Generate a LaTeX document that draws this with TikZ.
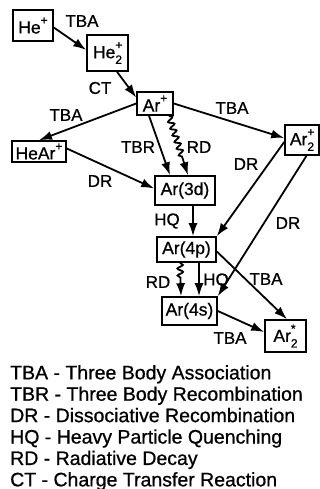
\documentclass[tikz,border=0pt]{standalone}
\usepackage{fontspec}
\setmainfont{Liberation Sans}[FakeBold=0.8]
\usetikzlibrary{arrows.meta,decorations.pathmorphing}
% superscript stacked over a subscript
\newcommand\supsub[2]{\makebox[0pt][l]{\raisebox{0.52em}{\fontsize{12}{12}\selectfont#1}}\raisebox{-0.32em}{\fontsize{12}{12}\selectfont#2}}
\newcommand\sups[1]{\raisebox{0.52em}{\fontsize{12}{12}\selectfont#1}}
\begin{document}
\begin{tikzpicture}[x=1pt,y=-1pt,
  species/.style={draw,line width=1.6pt,inner sep=0pt,font=\fontsize{17.5}{20}\selectfont},
  lbl/.style={inner sep=0pt,font=\fontsize{17}{20}\selectfont},
  rxn/.style={line width=1.8pt,-{Latex[length=13pt,width=9pt]}},
  wave/.style={rxn,decorate,decoration={snake,amplitude=2.8pt,segment length=7pt,post length=17pt}},
]
\useasboundingbox (0,0) rectangle (320,489);

% species
\node[species,minimum width=40pt,minimum height=31pt] (hep)  at (33,25.5)   {He\sups{+}};
\node[species,minimum width=41pt,minimum height=36pt] (he2)  at (107.5,53)  {He\supsub{+}{2}};
\node[species,minimum width=36pt,minimum height=23pt] (arp)  at (155,103.5) {Ar\sups{+}};
\node[species,minimum width=54pt,minimum height=21pt] (hear) at (39,151.5)  {HeAr\sups{+}};
\node[species,minimum width=34pt,minimum height=30pt] (ar2p) at (302,140)   {Ar\supsub{+}{2}};
\node[species,minimum width=60pt,minimum height=29pt] (ar3d) at (185,190.5) {Ar(3d)};
\node[species,minimum width=59pt,minimum height=25pt] (ar4p) at (186.5,249.5) {Ar(4p)};
\node[species,minimum width=55pt,minimum height=28pt] (ar4s) at (189.5,311) {Ar(4s)};
\node[species,minimum width=41pt,minimum height=32pt] (ar2s) at (285.5,336) {Ar\supsub{*}{2}};

% reactions
\draw[rxn] ([yshift=-2pt]hep.east) -- ([yshift=3pt]he2.west);
\draw[rxn] ([xshift=9.5pt]he2.south) -- ([yshift=6pt]arp.west);
\draw[rxn] (arp.west) -- (hear.north);
\draw[rxn] (arp.east) -- ([yshift=2pt]ar2p.west);
\draw[rxn] ([xshift=-6pt]arp.south) -- ([xshift=-15pt]ar3d.north);
\draw[wave] ([xshift=14pt]arp.south) -- ([xshift=3pt]ar3d.north);
\draw[rxn] ([yshift=3pt]hear.east) -- ([yshift=2pt]ar3d.west);
\draw[rxn] ([xshift=8pt]ar3d.south) -- ([xshift=6.5pt]ar4p.north);
\draw[rxn] ([yshift=-2pt]ar2p.west) -- (ar4p.north east);
\draw[rxn] ([xshift=4.5pt]ar2p.south) -- (ar4s.north east);
\draw[wave] ([xshift=-6.5pt]ar4p.south) -- ([xshift=-8.5pt]ar4s.north);
\draw[rxn] ([xshift=12.5pt]ar4p.south) -- ([xshift=9.5pt]ar4s.north);
\draw[rxn] ([yshift=-2pt]ar4p.east) -- ([xshift=1.5pt]ar2s.north);
\draw[rxn] (ar4s.east) -- ([yshift=4pt]ar2s.west);

% reaction labels
\node[lbl] (l1)  at (82,21)   {TBA};
\node[lbl] (l2)  at (100,88)  {CT};
\node[lbl] (l3)  at (66,115)  {TBA};
\node[lbl] (l4)  at (232,108) {TBA};
\node[lbl] (l5)  at (138,147) {TBR};
\node[lbl] (l6)  at (199,147) {RD};
\node[lbl] (l7)  at (100,181) {DR};
\node[lbl] (l8)  at (167,221) {HQ};
\node[lbl] (l9)  at (246,164) {DR};
\node[lbl] (l10) at (288,223) {DR};
\node[lbl] (l11) at (158,282) {RD};
\node[lbl] (l12) at (216,281) {HQ};
\node[lbl] (l13) at (266,279) {TBA};
\node[lbl] (l14) at (230,338) {TBA};

% key
\node[anchor=north west,inner sep=0pt,align=left,font=\fontsize{19.5}{21.4}\selectfont] (key) at (10,365)
 {TBA - Three Body Association\\
  TBR - Three Body Recombination\\
  DR - Dissociative Recombination\\
  HQ - Heavy Particle Quenching\\
  RD - Radiative Decay\\
  CT - Charge Transfer Reaction};
\end{tikzpicture}
\end{document}
